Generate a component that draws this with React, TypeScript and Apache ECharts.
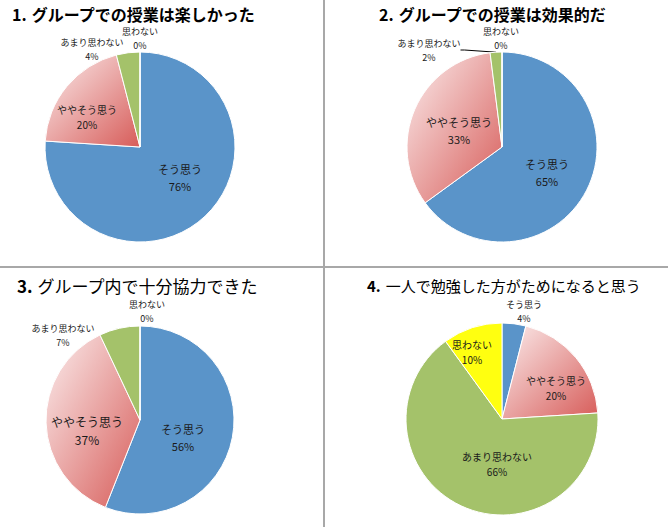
import React, { useEffect, useRef } from "react";
import * as echarts from "echarts";

const categories1 = ["そう思う", "ややそう思う", "あまり思わない", "思わない"];
const values1 = [76, 20, 4, 0];
const values2 = [65, 33, 2, 0];
const values3 = [56, 37, 7, 0];
const values4 = [4, 20, 66, 10];

const titleNumbers = ["1.", "2.", "3.", "4."];
const titleTexts = [
  "グループでの授業は楽しかった",
  "グループでの授業は効果的だ",
  "グループ内で十分協力できた",
  "一人で勉強した方がためになると思う",
];

const FONT = '"Noto Sans CJK JP", "Noto Sans", sans-serif';

const pinkGradient = {
  type: "linear",
  x: 0,
  y: 0,
  x2: 1,
  y2: 1,
  colorStops: [
    { offset: 0, color: "#FBEDED" },
    { offset: 1, color: "#D75C59" },
  ],
};
const sliceColors: any[] = ["#5A94C9", pinkGradient, "#A4C26A", "#FFFF10"];

// layout (positions / sizes)
const centers: [number, number][] = [
  [140, 147],
  [502, 147],
  [140, 420],
  [502, 419],
];
const radii = [95, 95, 94, 96];
const labelOffsets: [number, number][][] = [
  [[40, 30], [-53, -30], [-48, -98], [0, -109]],
  [[45, 25], [-43, -17], [-73, -97], [-1, -109]],
  [[43, 17], [-53, 10], [-77, -85], [7, -109]],
  [[22, -108], [54, -31], [-5, 45], [-30, -67]],
];
const labelSizes: number[][] = [
  [11, 10, 9, 9],
  [11, 11, 9, 9],
  [11, 12, 9, 9],
  [9, 10, 10, 10],
];
const titleLayout = [
  { left: 12, top: 5, size: 16, weight: "bold" },
  { left: 379, top: 5, size: 16, weight: "bold" },
  { left: 17, top: 276, size: 17, weight: "normal" },
  { left: 367, top: 276, size: 15, weight: "normal" },
];

export default function App() {
  const ref = useRef<HTMLDivElement>(null);
  useEffect(() => {
    if (!ref.current) return;
    const chart = echarts.init(ref.current, null, { renderer: "svg" });
    const allValues = [values1, values2, values3, values4];

    const series = allValues.map((vals, si) => ({
      type: "pie",
      center: centers[si],
      radius: radii[si],
      startAngle: 90,
      clockwise: true,
      avoidLabelOverlap: false,
      minShowLabelAngle: 0,
      itemStyle: { borderColor: "#ffffff", borderWidth: 1 },
      label: {
        show: true,
        position: "outside",
        formatter: "{b}\n{c}%",
        color: "#1a1a1a",
        fontFamily: FONT,
      },
      labelLine: { show: false },
      labelLayout: (params: any) => {
        const off = labelOffsets[si][params.dataIndex];
        return {
          x: centers[si][0] + off[0],
          y: centers[si][1] + off[1],
          align: "center",
          verticalAlign: "middle",
          hideOverlap: false,
          moveOverlap: false,
        };
      },
      emphasis: { disabled: true },
      data: categories1.map((name, i) => ({
        name,
        value: vals[i],
        itemStyle: { color: sliceColors[i] },
        label: {
          fontSize: labelSizes[si][i],
          lineHeight: Math.round(labelSizes[si][i] * 1.5),
        },
        labelLine:
          si === 1 && i === 2
            ? { show: true, length: 2, length2: 4, lineStyle: { color: "#000", width: 1 } }
            : { show: false },
      })),
    }));

    chart.setOption({
      animation: false,
      backgroundColor: "#ffffff",
      title: titleTexts.map((t, i) => ({
        text: `{n|${titleNumbers[i]}} {t|${t}}`,
        left: titleLayout[i].left,
        top: titleLayout[i].top,
        padding: 0,
        textStyle: {
          rich: {
            n: {
              fontFamily: FONT,
              fontSize: titleLayout[i].size,
              fontWeight: "bold",
              color: "#000",
            },
            t: {
              fontFamily: FONT,
              fontSize: titleLayout[i].size,
              fontWeight: titleLayout[i].weight,
              color: "#000",
            },
          },
        },
      })),
      graphic: [
        {
          type: "line",
          shape: { x1: 324, y1: 0, x2: 324, y2: 527 },
          style: { stroke: "#A8A8A8", lineWidth: 2 },
          z: 10,
        },
        {
          type: "line",
          shape: { x1: 0, y1: 267, x2: 668, y2: 267 },
          style: { stroke: "#A8A8A8", lineWidth: 2 },
          z: 10,
        },
      ],
      series,
    });
    return () => chart.dispose();
  }, []);
  return (
    <div
      ref={ref}
      style={{ position: "fixed", left: 0, top: 0, width: 668, height: 527 }}
    />
  );
}
